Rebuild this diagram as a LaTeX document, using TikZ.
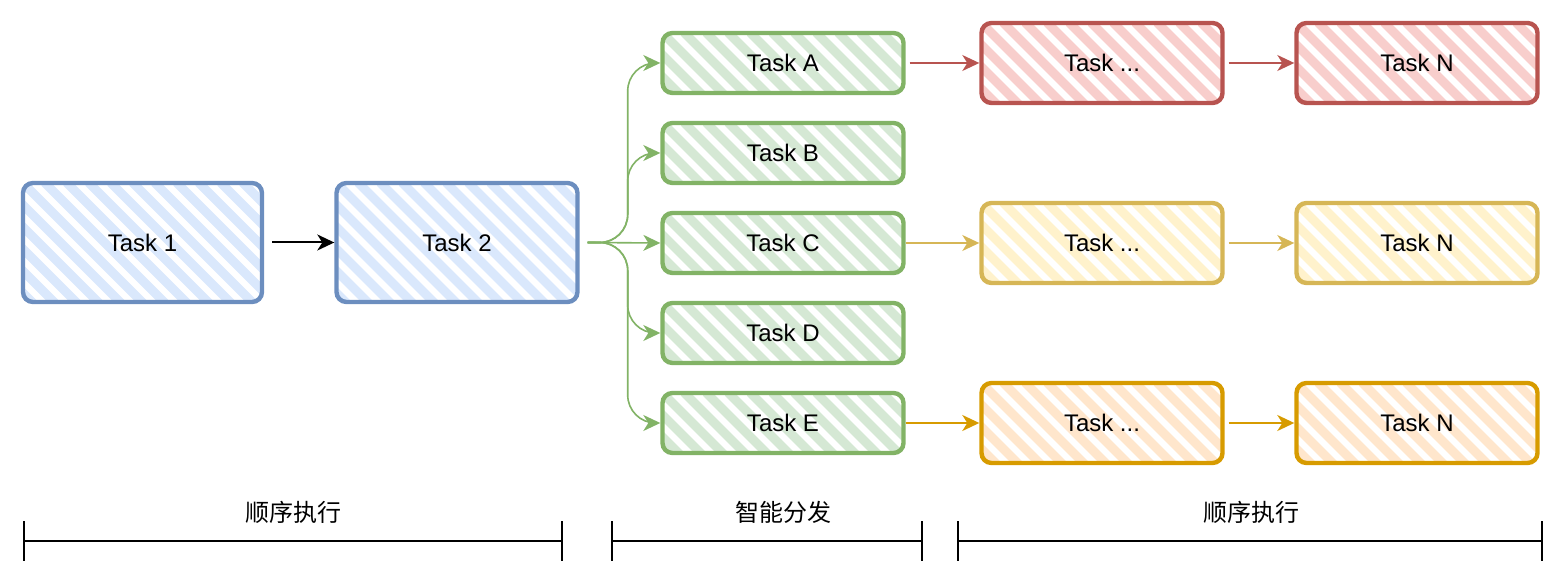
\documentclass[tikz,border=0pt]{standalone}
\usepackage{fontspec}
\setmainfont{Liberation Sans}
\newfontfamily\cjk{Noto Sans CJK SC}
\usetikzlibrary{
    arrows.meta,
    positioning,
    calc
}
\definecolor{bluefill}{HTML}{DAE8FC}
\definecolor{bluedraw}{HTML}{6C8EBF}
\definecolor{greenfill}{HTML}{D5E8D4}
\definecolor{greendraw}{HTML}{82B366}
\definecolor{redfill}{HTML}{F8CECC}
\definecolor{reddraw}{HTML}{B85450}
\definecolor{yellowfill}{HTML}{FFF2CC}
\definecolor{yellowdraw}{HTML}{D6B656}
\definecolor{orangefill}{HTML}{FFE6CC}
\definecolor{orangedraw}{HTML}{D79B00}
\tikzstyle{task} = [
    rectangle,
    rounded corners=5pt,
    line width=2.2pt,
    minimum width=120.5pt,
    font=\fontsize{12}{14}\selectfont
]
\tikzstyle{flow} = [
    -{Stealth[length=8.5pt, width=8pt, inset=2.5pt]},
    line width=0.8pt
]
\tikzstyle{span} = [
    {Bar[width=19.5pt]}-{Bar[width=19.5pt]},
    line width=1.2pt
]
\tikzstyle{phase} = [
    font=\cjk\fontsize{12}{14}\selectfont
]
\tikzset{hatch/.style={path picture={
    \foreach \k in {0,...,18}
        \draw[line width=4.5pt, line cap=round, #1]
            ([xshift=\k*11pt-66pt]path picture bounding box.north west) -- ++(72pt,-72pt);
}}}

\begin{document}
\begin{tikzpicture}[x=0.5pt, y=-0.5pt]
    \useasboundingbox (0,0) rectangle (1564,582);

    % Sequential start
    \node[task, draw=bluedraw, hatch=bluefill, minimum width=119.5pt, minimum height=59.5pt] (t1) at (142.5,242.5) {Task 1};
    \node[task, draw=bluedraw, hatch=bluefill, minimum height=59.5pt] (t2) at (457,242.5) {Task 2};
    \draw[flow, line width=1pt, shorten <=4pt] (t1) -- (t2);

    % Dispatched tasks
    \node[task, draw=greendraw, hatch=greenfill, minimum height=30pt] (ta) at (783,63) {Task A};
    \node[task, draw=greendraw, hatch=greenfill, minimum height=30pt] (tb) at (783,153) {Task B};
    \node[task, draw=greendraw, hatch=greenfill, minimum height=30pt] (tc) at (783,243) {Task C};
    \node[task, draw=greendraw, hatch=greenfill, minimum height=30pt] (td) at (783,333) {Task D};
    \node[task, draw=greendraw, hatch=greenfill, minimum height=30pt] (te) at (783,423) {Task E};

    % Fan-out from Task 2
    \coordinate (fork) at ([xshift=4pt]t2.east);
    \draw[flow, greendraw, rounded corners=14pt] (fork) -- ++(20pt,0) |- (ta.west);
    \draw[flow, greendraw, rounded corners=14pt] (fork) -- ++(20pt,0) |- (tb.west);
    \draw[flow, greendraw] (fork) -- (tc.west);
    \draw[flow, greendraw, rounded corners=14pt] (fork) -- ++(20pt,0) |- (td.west);
    \draw[flow, greendraw, rounded corners=14pt] (fork) -- ++(20pt,0) |- (te.west);

    % Sequential chains
    \node[task, draw=reddraw, hatch=redfill, minimum height=40pt] (ra) at (1102,63) {Task ...};
    \node[task, draw=reddraw, hatch=redfill, minimum height=40pt] (rn) at (1417,63) {Task N};
    \node[task, draw=yellowdraw, hatch=yellowfill, minimum height=40pt] (ya) at (1102,243) {Task ...};
    \node[task, draw=yellowdraw, hatch=yellowfill, minimum height=40pt] (yn) at (1417,243) {Task N};
    \node[task, draw=orangedraw, hatch=orangefill, minimum height=40pt] (oa) at (1102,423) {Task ...};
    \node[task, draw=orangedraw, hatch=orangefill, minimum height=40pt] (on) at (1417,423) {Task N};
    \draw[flow, reddraw, shorten <=2pt] (ta) -- (ra);
    \draw[flow, reddraw, shorten <=2pt] (ra) -- (rn);
    \draw[flow, yellowdraw] (tc) -- (ya);
    \draw[flow, yellowdraw, shorten <=2pt] (ya) -- (yn);
    \draw[flow, orangedraw, line width=1pt] (te) -- (oa);
    \draw[flow, orangedraw, line width=1pt, shorten <=2pt] (oa) -- (on);

    % Phase spans
    \node[phase] (seqa) at (293,512) {顺序执行};
    \node[phase] (disp) at (783,512) {智能分发};
    \node[phase] (seqb) at (1251,512) {顺序执行};
    \draw[span] (23,541) -- (563,541);
    \draw[span] (611,541) -- (923,541);
    \draw[span] (957,541) -- (1543,541);
\end{tikzpicture}
\end{document}
